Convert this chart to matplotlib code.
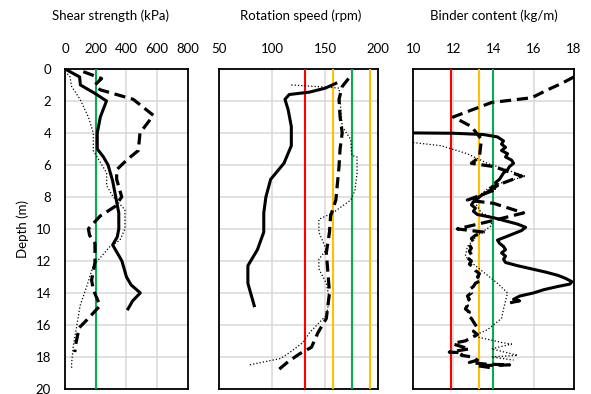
import matplotlib.pyplot as plt

plt.rcParams['font.family'] = ['Lato', 'DejaVu Sans']

# ---- Shear strength (kPa) ----
shear_solid_depth = [0, 0.5, 1.0, 1.5, 2.0, 2.5, 3.0, 4.0, 5.0, 5.5, 6.0, 7.0, 8.0, 8.5, 9.0,
                     10.0, 10.5, 11.0, 11.5, 12.0, 13.0, 13.5, 14.0, 14.5, 15.0]
shear_solid = [0, 95, 100, 190, 270, 250, 230, 210, 210, 250, 280, 310, 330, 340, 350,
               350, 340, 310, 340, 370, 400, 430, 490, 440, 410]
shear_dash_depth = [0.17, 0.6, 1.0, 1.3, 1.9, 2.9, 4.0, 5.1, 5.7, 6.3, 6.9, 8.0, 8.6, 9.2,
                    10.0, 10.4, 10.9, 11.3, 12.1, 13.2, 13.8, 14.8, 15.7, 16.2, 16.5, 17.3, 17.7]
shear_dash = [119, 238, 195, 228, 444, 575, 488, 477, 401, 336, 336, 369, 325, 228,
              152, 160, 195, 195, 195, 173, 184, 228, 141, 90, 85, 68, 64]
shear_dot_depth = [0.3, 0.5, 1.1, 1.9, 3.0, 4.0, 5.1, 6.5, 7.3, 8.0, 8.8, 10.0, 10.7, 11.1, 12.3,
                   13.6, 14.8, 16.1, 17.3, 18.4, 18.8]
shear_dot = [15, 33, 43, 98, 152, 184, 184, 271, 271, 314, 390, 390, 358, 293, 184,
             141, 98, 76, 54, 43, 43]
shear_target = 200

# ---- Rotation speed (rpm) ----
rot_solid_depth = [0.9, 1.2, 1.45, 1.6, 1.9, 2.55, 3.6, 4.8, 5.9, 6.9, 8.0, 9.0, 10.2, 11.3,
                   12.3, 13.4, 14.8]
rot_solid = [160, 150, 135, 116, 112, 115, 118, 118, 111, 98.5, 94, 92, 92, 86, 77, 77, 83]
rot_dash_depth = [0.6, 1.1, 1.9, 3.0, 4.0, 5.0, 6.1, 8.2, 9.2, 10.2, 11.5, 12.3, 14.0, 15.6,
                  16.5, 17.4, 17.8, 18.3, 18.8]
rot_dash = [172, 166, 163, 164, 166, 164, 163, 160, 155, 154, 151, 152, 154, 151,
            143, 137, 126, 115, 106]
rot_dot_depth = [1.0, 1.15, 1.2, 1.9, 3.6, 4.4, 5.4, 5.5, 6.5, 7.6, 8.2, 9.0, 9.4, 10.2, 11.3,
                 11.9, 12.5, 13.4, 14.4, 15.4, 16.5, 17.1, 17.7, 18.1, 18.5]
rot_dot = [118, 154, 163, 164, 166, 174, 175, 180, 180, 178, 174, 157, 144, 144, 151,
           144, 144, 151, 154, 151, 135, 129, 117, 108, 78.5]
rot_target = 175
rot_limits = [131.25, 157.5, 192.5]

# ---- Binder content (kg/m) ----
bind_solid_depth = [4.0, 4.02, 4.1, 4.25, 4.5, 4.7, 4.9, 5.1, 5.3, 5.5, 5.7, 5.9, 6.1, 6.3, 6.5,
                    6.7, 6.9, 7.1, 7.3, 7.5, 7.7, 7.9, 8.1, 8.3, 8.5, 8.7, 8.9, 9.1, 9.3, 9.5,
                    9.7, 9.9, 10.1, 10.3, 10.5, 10.7, 10.9, 11.1, 11.3, 11.5, 11.7, 11.9, 12.1,
                    12.3, 12.5, 12.7, 12.9, 13.1, 13.3, 13.45, 13.6, 13.8, 14.0, 14.2, 14.4,
                    14.5, 14.6]
bind_solid = [10.0, 12.0, 13.5, 14.2, 14.5, 14.4, 14.6, 14.4, 14.7, 14.6, 14.9, 15.0, 14.8,
              14.7, 14.5, 14.4, 14.3, 14.1, 14.2, 13.9, 13.7, 13.4, 13.2, 13.0, 12.9, 13.1,
              13.0, 13.2, 14.0, 14.6, 15.2, 15.6, 15.4, 15.0, 14.6, 14.2, 14.3, 14.5, 14.6,
              14.4, 14.6, 14.5, 14.6, 15.2, 15.9, 16.6, 17.2, 17.6, 17.9, 17.8, 17.2, 16.5,
              16.0, 15.3, 15.0, 15.3, 14.9]
bind_dash_depth = [0.5, 0.9, 1.3, 1.8, 2.1, 3.0, 3.6, 4.4, 5.5, 5.9, 6.1, 6.7, 7.4, 7.5, 8.2,
                   8.4, 9.0, 9.5, 10.0, 10.2, 10.4, 10.6, 10.8, 11.0, 11.2, 11.4, 11.6, 11.8,
                   12.0, 12.2, 12.4, 12.6, 12.8, 13.0, 13.2, 13.4, 13.6, 13.8, 14.0, 14.2,
                   14.4, 14.6, 14.8, 15.0, 15.2, 15.4, 15.6, 15.8, 16.0, 16.2, 16.4, 16.6,
                   16.8, 17.0, 17.1, 17.2, 17.35, 17.5, 17.6, 17.7, 17.75, 17.9, 18.0, 18.2,
                   18.35, 18.45, 18.5, 18.55, 18.7]
bind_dash = [18.0, 17.4, 16.7, 15.9, 13.9, 12.0, 12.9, 13.4, 13.3, 12.9, 14.0, 15.4, 13.9,
             14.2, 12.7, 14.0, 15.5, 13.9, 12.2, 13.5, 13.1, 12.9, 13.0, 12.8, 12.9, 12.8,
             12.9, 12.7, 12.9, 12.8, 13.0, 13.1, 13.3, 13.2, 13.4, 13.1, 13.0, 12.8, 12.9,
             12.7, 12.8, 12.6, 12.7, 12.6, 12.8, 12.7, 12.9, 13.0, 13.1, 13.2, 13.0, 13.2,
             12.9, 12.6, 12.2, 12.0, 12.4, 12.8, 12.3, 11.8, 12.5, 12.4, 12.9, 13.2, 12.8,
             13.6, 14.8, 13.2, 14.0]
bind_dot_depth = [4.6, 4.8, 5.3, 5.9, 6.7, 7.3, 8.2, 9.0, 9.25, 9.8, 10.4, 11.1, 11.7, 12.1,
                  12.7, 13.4, 14.0, 15.0, 15.6, 16.3, 16.7, 17.1, 17.2, 17.5, 17.9, 18.0, 18.2]
bind_dot = [10.0, 11.4, 12.7, 13.7, 15.6, 13.9, 13.0, 13.4, 13.9, 13.9, 13.2, 12.7, 12.6, 12.9,
            13.5, 14.2, 14.7, 14.5, 14.4, 13.7, 13.0, 14.4, 14.9, 13.9, 15.2, 13.9, 15.0]
bind_target = 14
bind_limits = [11.9, 13.3]

GREEN = '#00B050'
RED = '#FF0000'
YELLOW = '#FFC000'
FS = 9.5

fig = plt.figure(figsize=(5.91, 3.94), dpi=100)
ax1 = fig.add_axes([0.110, 0.013, 0.208, 0.812])
ax2 = fig.add_axes([0.371, 0.013, 0.269, 0.812])
ax3 = fig.add_axes([0.699, 0.013, 0.272, 0.812])


def style_axis(ax, xlim, xticks, show_y):
    ax.set_xlim(*xlim)
    ax.set_ylim(20, 0)
    ax.set_xticks(xticks)
    ax.set_yticks(range(0, 21, 2))
    ax.xaxis.tick_top()
    ax.tick_params(length=0, labelsize=FS, pad=10)
    if not show_y:
        ax.set_yticklabels([])
    ax.grid(True, color='#d9d9d9', linewidth=1.1)
    ax.set_axisbelow(True)
    for s in ax.spines.values():
        s.set_color('black')
        s.set_linewidth(1.3)


def draw_series(ax, sd, sv, dd, dv, od, ov):
    ax.plot(sv, sd, color='black', lw=2.2, zorder=4)
    ax.plot(dv, dd, color='black', lw=2.3, dashes=(3.5, 1.8), zorder=4)
    ax.plot(ov, od, color='black', lw=0.9, ls=':', zorder=4)


# panel 1
style_axis(ax1, (0, 800), range(0, 801, 200), True)
ax1.axvline(shear_target, color=GREEN, lw=1.5, zorder=3)
draw_series(ax1, shear_solid_depth, shear_solid, shear_dash_depth, shear_dash,
            shear_dot_depth, shear_dot)
ax1.set_ylabel('Depth (m)', fontsize=FS, labelpad=5)

# panel 2
style_axis(ax2, (50, 200), range(50, 201, 50), False)
ax2.axvline(rot_limits[0], color=RED, lw=1.5, zorder=3)
ax2.axvline(rot_limits[1], color=YELLOW, lw=1.5, zorder=3)
ax2.axvline(rot_limits[2], color=YELLOW, lw=1.5, zorder=3)
ax2.axvline(rot_target, color=GREEN, lw=1.5, zorder=3)
draw_series(ax2, rot_solid_depth, rot_solid, rot_dash_depth, rot_dash,
            rot_dot_depth, rot_dot)

# panel 3
style_axis(ax3, (10, 18), range(10, 19, 2), False)
ax3.axvline(bind_limits[0], color=RED, lw=1.5, zorder=3)
ax3.axvline(bind_limits[1], color=YELLOW, lw=1.5, zorder=3)
ax3.axvline(bind_target, color=GREEN, lw=1.5, zorder=3)
draw_series(ax3, bind_solid_depth, bind_solid, bind_dash_depth, bind_dash,
            bind_dot_depth, bind_dot)

fig.text(110 / 591, 0.96, 'Shear strength (kPa)', ha='center', va='center', fontsize=FS)
fig.text(301 / 591, 0.96, 'Rotation speed (rpm)', ha='center', va='center', fontsize=FS)
fig.text(494 / 591, 0.96, 'Binder content (kg/m)', ha='center', va='center', fontsize=FS)

fig.savefig('out.png', dpi=100)
